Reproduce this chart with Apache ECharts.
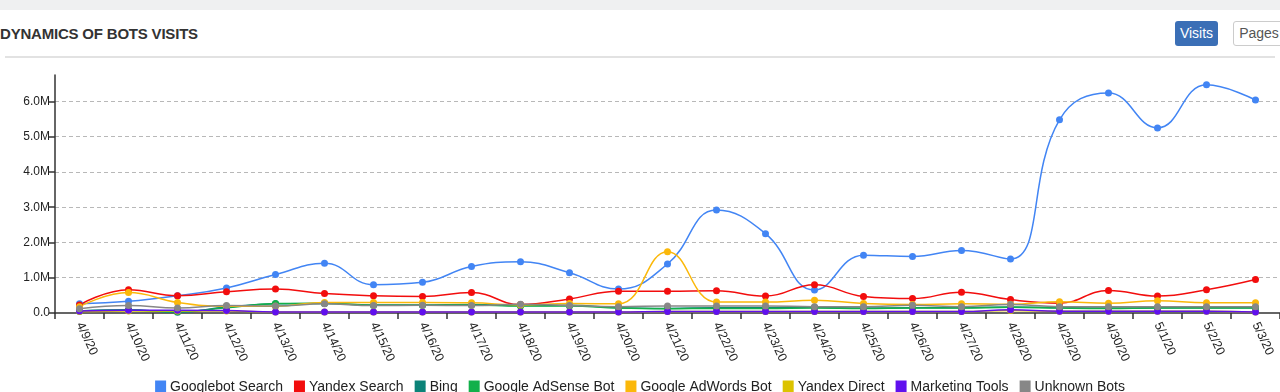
<!DOCTYPE html>
<html>
<head>
<meta charset="utf-8">
<script src="https://cdn.jsdelivr.net/npm/echarts@6/dist/echarts.min.js"></script>
<style>
  html, body { margin:0; padding:0; background:#fff; width:1280px; height:392px; overflow:hidden; font-family: "Liberation Sans", Arial, Helvetica, sans-serif; }
  #topband { position:absolute; left:0; top:0; width:1280px; height:10px; background:#eff0f1; }
  #title { position:absolute; left:0; top:25px; font-size:15px; font-weight:bold; color:#333; letter-spacing:-0.2px; }
  #sep { position:absolute; left:5px; top:56px; width:1270px; height:2px; background:#e2e2e2; }
  #btnVisits { position:absolute; left:1175px; top:21px; width:43px; height:25px; background:#3b6fb6; color:#fff; border-radius:3px; font-size:14px; line-height:25px; text-align:center; }
  #btnPages { position:absolute; left:1233px; top:21px; width:50px; height:23px; border:1px solid #ccc; border-radius:3px; color:#555; font-size:14px; line-height:23px; text-align:center; background:#fff; }
  #chart { position:absolute; left:0; top:0; width:1280px; height:392px; }
</style>
</head>
<body>
<div id="topband"></div>
<div id="title">DYNAMICS OF BOTS VISITS</div>
<div id="sep"></div>
<div id="btnVisits">Visits</div>
<div id="btnPages">Pages</div>
<div id="chart"></div>
<script>
// Categories (dates)
const categories = ['4/9/20','4/10/20','4/11/20','4/12/20','4/13/20','4/14/20','4/15/20','4/16/20','4/17/20','4/18/20','4/19/20','4/20/20','4/21/20','4/22/20','4/23/20','4/24/20','4/25/20','4/26/20','4/27/20','4/28/20','4/29/20','4/30/20','5/1/20','5/2/20','5/3/20'];

// Series values (millions of visits)
const googlebotSearch = [0.26,0.33,0.49,0.71,1.09,1.41,0.80,0.87,1.32,1.45,1.14,0.68,1.39,2.92,2.25,0.65,1.64,1.60,1.77,1.53,5.48,6.24,5.25,6.47,6.04];
const yandexSearch    = [0.23,0.66,0.49,0.60,0.68,0.55,0.49,0.47,0.58,0.24,0.40,0.62,0.62,0.63,0.48,0.80,0.47,0.41,0.59,0.38,0.28,0.64,0.48,0.66,0.95];
const bing            = [0.06,0.09,0.02,0.17,0.26,0.27,0.23,0.23,0.24,0.21,0.22,0.15,0.13,0.15,0.15,0.16,0.14,0.15,0.15,0.17,0.15,0.14,0.15,0.15,0.15];
const googleAdSense   = [0.05,0.08,0.04,0.15,0.27,0.28,0.22,0.22,0.23,0.20,0.20,0.14,0.12,0.13,0.13,0.14,0.13,0.14,0.14,0.16,0.14,0.13,0.14,0.14,0.14];
const googleAdWords   = [0.18,0.58,0.30,0.19,0.19,0.30,0.30,0.30,0.29,0.23,0.27,0.26,1.74,0.31,0.31,0.36,0.27,0.24,0.26,0.25,0.32,0.28,0.35,0.29,0.29];
const yandexDirect    = [0.04,0.06,0.06,0.06,0.03,0.03,0.03,0.03,0.03,0.03,0.03,0.03,0.04,0.04,0.04,0.04,0.04,0.04,0.04,0.07,0.05,0.05,0.05,0.05,0.03];
const marketingTools  = [0.06,0.08,0.08,0.07,0.03,0.03,0.03,0.03,0.03,0.03,0.03,0.03,0.04,0.04,0.04,0.04,0.04,0.04,0.04,0.09,0.05,0.05,0.05,0.05,0.03];
const unknownBots     = [0.12,0.21,0.14,0.21,0.20,0.26,0.21,0.22,0.21,0.25,0.21,0.18,0.20,0.20,0.20,0.18,0.18,0.22,0.18,0.24,0.18,0.18,0.18,0.18,0.18];

const seriesNames = ['Googlebot Search','Yandex Search','Bing','Google AdSense Bot','Google AdWords Bot','Yandex Direct','Marketing Tools','Unknown Bots'];
const seriesData  = [googlebotSearch, yandexSearch, bing, googleAdSense, googleAdWords, yandexDirect, marketingTools, unknownBots];
const colors = ['#4285f4','#f20d0d','#0b8378','#12b04a','#fbb80a','#dcc300','#6010ee','#878787'];

const chart = echarts.init(document.getElementById('chart'), null, {renderer:'canvas'});
const font = '"Liberation Sans", Arial, Helvetica, sans-serif';

chart.setOption({
  animation: false,
  color: colors,
  textStyle: { fontFamily: font },
  grid: { left: 55, right: 0, top: 75, bottom: 79, containLabel: false },
  legend: {
    bottom: -7, left: 'center',
    icon: 'rect', itemWidth: 11, itemHeight: 13, itemGap: 11,
    textStyle: { fontSize: 14, color: '#222', fontFamily: font, padding: [0,0,0,-1] },
    data: seriesNames
  },
  xAxis: {
    type: 'category',
    data: categories,
    boundaryGap: true,
    axisLine: { lineStyle: { color: '#333', width: 1.5 } },
    axisTick: { show: true, length: 6, lineStyle: { color: '#333', width: 1.5 } },
    axisLabel: { interval: 0, rotate: -65, margin: 10, fontSize: 12.5, color: '#222', fontFamily: font },
    splitLine: { show: false }
  },
  yAxis: {
    type: 'value',
    min: 0, max: 6.75, interval: 1,
    axisLine: { show: true, lineStyle: { color: '#333', width: 1.5 } },
    axisTick: { show: true, length: 6, lineStyle: { color: '#333', width: 1.5 } },
    axisLabel: {
      showMaxLabel: false, fontSize: 12, color: '#222', margin: 5, fontFamily: font,
      formatter: v => v === 0 ? '0.0' : v.toFixed(1) + 'M'
    },
    splitLine: { show: true, showMinLine: false, showMaxLine: false, lineStyle: { color: '#b8b8b8', type: [4, 3], width: 1 } }
  },
  series: seriesNames.map((name, i) => ({
    name: name,
    type: 'line',
    data: seriesData[i],
    smooth: 0.45,
    symbol: 'circle',
    symbolSize: 7,
    showSymbol: true,
    lineStyle: { width: 1.5 },
    itemStyle: { color: colors[i] },
    emphasis: { disabled: true }
  }))
});
</script>
</body>
</html>
